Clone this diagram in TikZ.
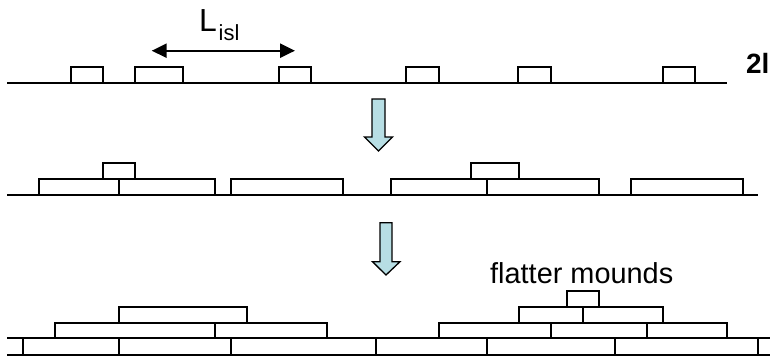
\documentclass[tikz,border=0pt]{standalone}
\usepackage{fontspec}
\setmainfont{Liberation Sans}
\usetikzlibrary{arrows.meta}
\definecolor{arrowfill}{RGB}{183,222,228}
\begin{document}
\begin{tikzpicture}[x=1bp,y=-1bp,
  base/.style={draw=black, line width=1.9bp},
  isl/.style={draw=black, line width=1.9bp, line join=miter},
  blockarrow/.style={draw=black, fill=arrowfill, line width=1.3bp, line join=miter},
  lbl/.style={anchor=base west, inner sep=0pt, text=black}]
\useasboundingbox (0,0) rectangle (770,359);

% ---------- row 1 ----------
\draw[base] (7,83) -- (727,83);
\foreach \a/\b in {70.7/102.7, 134.7/182.7, 278.7/311.3, 406.3/439, 518.3/551, 663/695}
  \draw[isl] (\a,83) rectangle (\b,67);

\coordinate (la) at (151.7,50.7);
\coordinate (lb) at (295,50.7);
\draw[line width=2.4bp, {Triangle[length=15bp,width=14bp]}-{Triangle[length=15bp,width=14bp]}] (la) -- (lb);

\node[lbl, font=\fontsize{32}{32}\selectfont] (L) at (199,31.7) {L};
\node[lbl, font=\fontsize{22}{22}\selectfont] (isl) at (218.5,40) {isl};
\node[lbl, font=\bfseries\fontsize{28}{28}\selectfont] (twol) at (746,73) {2l};

% ---------- arrow 1 ----------
\draw[blockarrow] (372,99) -- (385,99) -- (385,137) -- (392.5,137) -- (378.5,151)
  -- (364.5,137) -- (372,137) -- cycle;

% ---------- row 2 ----------
\draw[base] (7,195) -- (758,195);
\foreach \a/\b in {39/119, 119/215, 230.7/342.7, 391/486.7, 486.7/598.7, 630.7/743.3}
  \draw[isl] (\a,195) rectangle (\b,179);
\foreach \a/\b in {103/135, 471/519}
  \draw[isl] (\a,179) rectangle (\b,162.7);

% ---------- arrow 2 ----------
\draw[blockarrow] (380,222.7) -- (392,222.7) -- (392,261.7) -- (400,261.7) -- (386,275)
  -- (372.5,261.7) -- (380,261.7) -- cycle;

% ---------- row 3 ----------
\draw[base] (7,355) -- (770,355);
\draw[base] (7,338.3) -- (770,338.3);
\foreach \a in {22.7, 119, 231, 375.7, 486.7, 615, 758.3}
  \draw[isl] (\a,338.3) -- (\a,355);
\foreach \a/\b in {55/215, 215/326.7, 439/551, 551/647, 647/726.7}
  \draw[isl] (\a,338.3) rectangle (\b,322.7);
\foreach \a/\b in {119/247.3, 519/582.7, 582.7/663}
  \draw[isl] (\a,322.7) rectangle (\b,307.3);
\draw[isl] (567,307.3) rectangle (598.7,291);

\node[lbl, font=\fontsize{29}{29}\selectfont] (flat) at (490,283) {flatter mounds};
\end{tikzpicture}
\end{document}
